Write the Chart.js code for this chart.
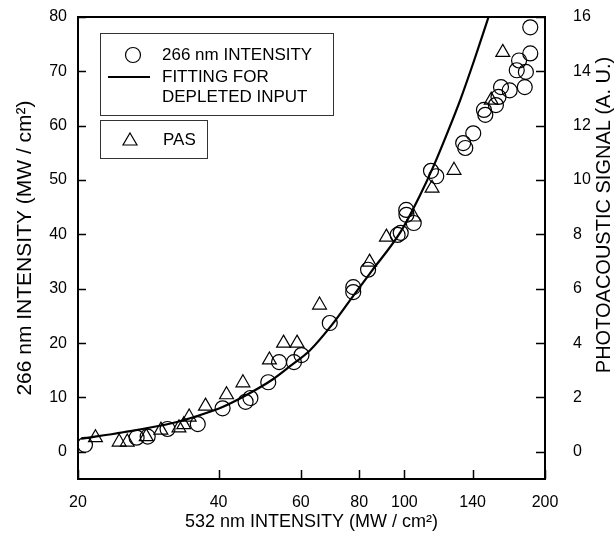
<!DOCTYPE html>
<html>
<head>
<meta charset="utf-8">
<script src="https://cdn.jsdelivr.net/npm/chart.js@4/dist/chart.umd.min.js"></script>
<style>
  html, body { margin: 0; padding: 0; background: #fff; }
  #wrap { width: 615px; height: 545px; }
</style>
</head>
<body>
<div id="wrap"><canvas id="chart"></canvas></div>
<script>
// 532 nm input (x) vs 266 nm output, circles
const circleX = [20.7, 26.7, 28.2, 31.1, 36.1, 40.8, 45.7, 46.8, 51.1, 53.9, 58.0, 60.2, 69.2, 77.7, 77.7, 83.6,
  96.7, 98.2, 100.9, 101, 104.7, 114, 117, 133.6, 135, 140.4, 148, 149, 157, 159, 161, 168, 174, 176, 181, 182, 186, 186];
const circleY = [1.3, 2.6, 2.8, 4.2, 5.1, 8.0, 9.2, 9.9, 12.8, 16.5, 16.5, 17.8, 23.7, 29.4, 30.3, 33.5,
  39.9, 40.3, 44.5, 43.6, 42.1, 51.7, 50.7, 56.8, 55.9, 58.6, 62.9, 62.0, 63.8, 65.3, 67.1, 66.5, 70.2, 72.0, 67.1, 69.9, 73.3, 78.1];

// photoacoustic signal (right axis), triangles
const pasX = [21.8, 24.5, 25.5, 28.0, 30.1, 32.9, 33.7, 34.6, 37.5, 41.6, 45.1, 51.4, 55.1, 58.9, 65.8,
  84.2, 91.5, 104.7, 114.6, 127.7, 153.4, 162.4];
const pasY = [0.52, 0.36, 0.36, 0.56, 0.8, 0.88, 1.0, 1.28, 1.68, 2.1, 2.54, 3.38, 4.0, 4.0, 5.4,
  6.98, 7.9, 8.64, 9.7, 10.36, 12.94, 14.7];

// fitting curve for depleted input
const fitX = [20.3, 25, 31.9, 36, 40.9, 46, 52.2, 57, 62.8, 70, 77.7, 85, 98.2, 108, 115.5, 124, 131.9, 141, 151.4];
const fitY = [2.4, 3.6, 5.3, 6.6, 8.3, 10.5, 13.3, 15.8, 18.7, 23.4, 28.7, 33.2, 40.5, 47.2, 52.6, 59.0, 64.9, 72.0, 80];

const xTicks = [20, 40, 60, 80, 100, 140, 200];
const yTicks = [0, 10, 20, 30, 40, 50, 60, 70, 80];
const y2Ticks = [0, 2, 4, 6, 8, 10, 12, 14, 16];

const FONT = "'Liberation Sans', Arial, Helvetica, sans-serif";
Chart.defaults.font.family = FONT;
Chart.defaults.color = '#000';

const toPoints = (xs, ys) => xs.map((x, i) => ({ x: x, y: ys[i] }));
const fixTicks = (list) => (scale) => { scale.ticks = list.map((v) => ({ value: v })); };
const fixWidth = (w) => (scale) => {
  scale.width = w;
  scale.paddingTop = 0;
  scale.paddingBottom = 0;
};

// frame top edge, inward ticks, legend boxes, right title
const extras = {
  id: 'extras',
  afterDraw(chart) {
    const { ctx, chartArea, scales } = chart;
    ctx.save();
    ctx.strokeStyle = '#000';
    ctx.lineWidth = 2;
    ctx.beginPath();
    ctx.moveTo(chartArea.left - 1, chartArea.top);
    ctx.lineTo(chartArea.right + 1, chartArea.top);
    ctx.stroke();

    // tick marks pointing into the plot
    ctx.lineWidth = 1.5;
    ctx.beginPath();
    scales.x.ticks.forEach((t) => {
      const px = Math.round(scales.x.getPixelForValue(t.value)) + 0.5;
      ctx.moveTo(px, chartArea.bottom);
      ctx.lineTo(px, chartArea.bottom - 9);
    });
    scales.y.ticks.forEach((t) => {
      const py = Math.round(scales.y.getPixelForValue(t.value)) + 0.5;
      ctx.moveTo(chartArea.left, py);
      ctx.lineTo(chartArea.left + 8, py);
    });
    scales.y2.ticks.forEach((t) => {
      const py = Math.round(scales.y2.getPixelForValue(t.value)) + 0.5;
      ctx.moveTo(chartArea.right, py);
      ctx.lineTo(chartArea.right - 9, py);
    });
    ctx.stroke();

    // legend
    ctx.lineWidth = 1;
    ctx.strokeStyle = '#333';
    ctx.strokeRect(100.5, 33.5, 233, 82);
    ctx.strokeRect(100.5, 120.5, 107, 38);

    ctx.strokeStyle = '#000';
    ctx.lineWidth = 1.2;
    ctx.beginPath();
    ctx.arc(133, 55, 7.5, 0, Math.PI * 2);
    ctx.stroke();

    ctx.lineWidth = 2.2;
    ctx.beginPath();
    ctx.moveTo(108, 77);
    ctx.lineTo(150, 77);
    ctx.stroke();

    ctx.lineWidth = 1.2;
    ctx.beginPath();
    ctx.moveTo(130, 133);
    ctx.lineTo(137, 145);
    ctx.lineTo(123, 145);
    ctx.closePath();
    ctx.stroke();

    ctx.fillStyle = '#000';
    ctx.font = '17px ' + FONT;
    ctx.textBaseline = 'middle';
    ctx.fillText('266 nm INTENSITY', 162, 55);
    ctx.fillText('FITTING FOR', 162, 77);
    ctx.fillText('DEPLETED INPUT', 162, 97);
    ctx.fillText('PAS', 163, 140);

    // right axis title, reads bottom to top
    ctx.font = '20px ' + FONT;
    ctx.textAlign = 'center';
    ctx.translate(604, 215);
    ctx.rotate(-Math.PI / 2);
    ctx.fillText('PHOTOACOUSTIC SIGNAL (A. U.)', 0, 0);
    ctx.restore();
  }
};

new Chart(document.getElementById('chart'), {
  type: 'scatter',
  data: {
    datasets: [
      {
        label: '266 nm INTENSITY',
        data: toPoints(circleX, circleY),
        yAxisID: 'y',
        pointStyle: 'circle',
        pointRadius: 7.5,
        borderColor: '#000',
        borderWidth: 1.2,
        backgroundColor: 'rgba(0,0,0,0)',
      },
      {
        label: 'PAS',
        data: toPoints(pasX, pasY),
        yAxisID: 'y2',
        pointStyle: 'triangle',
        pointRadius: 8,
        borderColor: '#000',
        borderWidth: 1.2,
        backgroundColor: 'rgba(0,0,0,0)',
      },
      {
        type: 'line',
        label: 'FITTING FOR DEPLETED INPUT',
        data: toPoints(fitX, fitY),
        yAxisID: 'y',
        borderColor: '#000',
        borderWidth: 2.2,
        pointRadius: 0,
        cubicInterpolationMode: 'monotone',
        fill: false,
      },
    ],
  },
  options: {
    responsive: true,
    maintainAspectRatio: false,
    animation: false,
    layout: { padding: { top: 17, left: 0, right: 0, bottom: 0 } },
    plugins: { legend: { display: false }, tooltip: { enabled: false } },
    scales: {
      x: {
        type: 'logarithmic',
        position: 'bottom',
        min: 20,
        max: 200,
        afterBuildTicks: fixTicks(xTicks),
        afterFit: (scale) => { scale.height = 66; },
        border: { color: '#000', width: 2 },
        grid: { drawOnChartArea: false, drawTicks: false },
        ticks: { font: { size: 16 }, padding: 14, maxRotation: 0, autoSkip: false, callback: (v) => String(v) },
        title: { display: true, text: '532 nm INTENSITY (MW / cm²)', font: { size: 18 }, padding: { bottom: 12, top: 0 } },
      },
      y: {
        position: 'left',
        min: -5,
        max: 80,
        afterBuildTicks: fixTicks(yTicks),
        afterFit: fixWidth(78),
        border: { color: '#000', width: 2 },
        grid: { drawOnChartArea: false, drawTicks: false },
        ticks: { font: { size: 16 }, padding: 11 },
        title: { display: true, text: '266 nm INTENSITY (MW / cm²)', font: { size: 21 }, padding: { top: 13, bottom: 0 } },
      },
      y2: {
        position: 'right',
        min: -1,
        max: 16,
        afterBuildTicks: fixTicks(y2Ticks),
        afterFit: fixWidth(70),
        border: { color: '#000', width: 2 },
        grid: { drawOnChartArea: false, drawTicks: false },
        ticks: { font: { size: 16 }, padding: 28 },
      },
    },
  },
  plugins: [extras],
});
</script>
</body>
</html>
